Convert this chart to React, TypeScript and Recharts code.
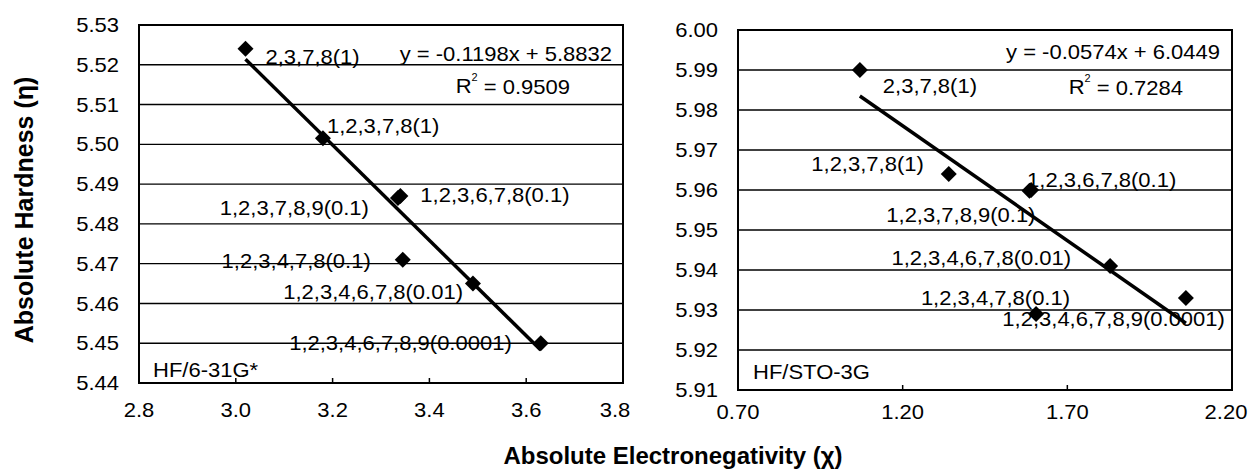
import { ScatterChart, Scatter, XAxis, YAxis, CartesianGrid, ReferenceArea } from "recharts";

// congeners, in the same order in both panels
const congeners = [
  "2,3,7,8(1)",
  "1,2,3,7,8(1)",
  "1,2,3,6,7,8(0.1)",
  "1,2,3,7,8,9(0.1)",
  "1,2,3,4,7,8(0.1)",
  "1,2,3,4,6,7,8(0.01)",
  "1,2,3,4,6,7,8,9(0.0001)",
];

// HF/6-31G*
const chi631 = [3.02, 3.18, 3.34, 3.335, 3.345, 3.49, 3.63];
const eta631 = [5.524, 5.5015, 5.487, 5.4865, 5.471, 5.465, 5.45];
const trend631X = [3.02, 3.63];
const trend631Y = [5.5214, 5.4483];
const xTicks631 = [2.8, 3.0, 3.2, 3.4, 3.6, 3.8];
const yTicks631 = [5.44, 5.45, 5.46, 5.47, 5.48, 5.49, 5.5, 5.51, 5.52, 5.53];

// HF/STO-3G
const chiSto = [1.07, 1.34, 1.59, 1.585, 1.605, 1.83, 2.06];
const etaSto = [5.99, 5.964, 5.96, 5.9598, 5.929, 5.941, 5.933];
const trendStoX = [1.07, 2.06];
const trendStoY = [5.9835, 5.9267];
const xTicksSto = [0.7, 1.2, 1.7, 2.2];
const yTicksSto = [5.91, 5.92, 5.93, 5.94, 5.95, 5.96, 5.97, 5.98, 5.99, 6.0];

// label placement relative to each marker (px)
const labelPos631 = [
  { dx: 20, dy: 8, anchor: "start" },
  { dx: 4, dy: -13, anchor: "start" },
  { dx: 20, dy: -1, anchor: "start" },
  { dx: -29, dy: 10, anchor: "end" },
  { dx: -32, dy: 1, anchor: "end" },
  { dx: -10, dy: 8, anchor: "end" },
  { dx: -29, dy: 0, anchor: "end" },
];
const labelPosSto = [
  { dx: 23, dy: 16, anchor: "start" },
  { dx: -25, dy: -10, anchor: "end" },
  { dx: -4, dy: -10, anchor: "start" },
  { dx: 6, dy: 24, anchor: "end" },
  { dx: 34, dy: -16, anchor: "end" },
  { dx: -39, dy: -8, anchor: "end" },
  { dx: 39, dy: 21, anchor: "end" },
];

const FONT = "Arial, 'Liberation Sans', Helvetica, sans-serif";
const FS = 20;
const SX = 1.1; // the scan's lettering is a little wide

const SText = ({ x, y, anchor = "start", children }: any) => (
  <text
    transform={`translate(${x},${y}) scale(${SX},1)`}
    textAnchor={anchor}
    dominantBaseline="central"
    fontSize={FS}
    fontFamily={FONT}
    fill="#000"
  >
    {children}
  </text>
);

const toPoints = (xs: number[], ys: number[]) =>
  xs.map((x, i) => ({ x, y: ys[i], idx: i, name: congeners[i] }));
const toLine = (xs: number[], ys: number[]) => xs.map((x, i) => ({ x, y: ys[i] }));

const makeShape = (pos: { dx: number; dy: number; anchor: string }[]) => (props: any) => {
  const { cx, cy, payload } = props;
  const p = pos[payload.idx];
  const r = 8;
  return (
    <g>
      <polygon
        points={`${cx},${cy - r} ${cx + r},${cy} ${cx},${cy + r} ${cx - r},${cy}`}
        fill="#000"
      />
      <SText x={cx + p.dx} y={cy + p.dy} anchor={p.anchor}>
        {payload.name}
      </SText>
    </g>
  );
};

const XTick = (props: any) => {
  const { x, y, payload, digits, labelGap, maxX } = props;
  // keep the last label inside the picture
  const tx = Math.min(x, maxX);
  return (
    <g>
      <line x1={x} y1={y} x2={x} y2={y - 5} stroke="#000" strokeWidth={1.5} />
      <SText x={tx} y={y + labelGap} anchor="middle">
        {payload.value.toFixed(digits)}
      </SText>
    </g>
  );
};

const YTick = (props: any) => {
  const { x, y, payload } = props;
  return (
    <SText x={x} y={y} anchor="end">
      {payload.value.toFixed(2)}
    </SText>
  );
};

type PanelProps = {
  points: { x: number; y: number; idx: number; name: string }[];
  trend: { x: number; y: number }[];
  xTicks: number[];
  yTicks: number[];
  xDigits: number;
  labelPos: { dx: number; dy: number; anchor: string }[];
  width: number;
  margin: { top: number; right: number; bottom: number; left: number };
  labelGap: number;
};

const Panel = ({ points, trend, xTicks, yTicks, xDigits, labelPos, width, margin, labelGap }: PanelProps) => {
  const xMin = xTicks[0];
  const xMax = xTicks[xTicks.length - 1];
  const yMin = yTicks[0];
  const yMax = yTicks[yTicks.length - 1];
  return (
    <ScatterChart width={width} height={471} margin={margin}>
      <CartesianGrid vertical={false} stroke="#000" strokeWidth={1.4} />
      <XAxis
        type="number"
        dataKey="x"
        domain={[xMin, xMax]}
        ticks={xTicks}
        allowDataOverflow
        axisLine={false}
        tickLine={false}
        tickSize={0}
        tickMargin={0}
        height={30}
        interval={0}
        tick={(p: any) => (
          <XTick {...p} digits={xDigits} labelGap={labelGap} maxX={width - 25} />
        )}
      />
      <YAxis
        type="number"
        dataKey="y"
        domain={[yMin, yMax]}
        ticks={yTicks}
        allowDataOverflow
        axisLine={false}
        tickLine={false}
        tickSize={0}
        tickMargin={20}
        width={60}
        interval={0}
        tick={(p: any) => <YTick {...p} />}
      />
      <ReferenceArea
        x1={xMin}
        x2={xMax}
        y1={yMin}
        y2={yMax}
        fill="none"
        stroke="#000"
        strokeWidth={2}
        fillOpacity={0}
      />
      <Scatter
        data={trend}
        line={{ stroke: "#000", strokeWidth: 3.5 }}
        shape={() => <g />}
        isAnimationActive={false}
      />
      <Scatter data={points} shape={makeShape(labelPos)} isAnimationActive={false} />
    </ScatterChart>
  );
};

const App = () => {
  return (
    <div
      style={{
        position: "absolute",
        left: 0,
        top: 0,
        width: 1251,
        height: 471,
        background: "#fff",
        fontFamily: FONT,
      }}
    >
      {/* HF/6-31G* panel: plot area 139..623 x 25..383 */}
      <div style={{ position: "absolute", left: 0, top: 0 }}>
        <Panel
          points={toPoints(chi631, eta631)}
          trend={toLine(trend631X, trend631Y)}
          xTicks={xTicks631}
          yTicks={yTicks631}
          xDigits={1}
          labelPos={labelPos631}
          width={640}
          margin={{ top: 25, right: 17, bottom: 58, left: 79 }}
          labelGap={27}
        />
      </div>
      {/* HF/STO-3G panel: plot area 738..1232 x 30..390 */}
      <div style={{ position: "absolute", left: 660, top: 0 }}>
        <Panel
          points={toPoints(chiSto, etaSto)}
          trend={toLine(trendStoX, trendStoY)}
          xTicks={xTicksSto}
          yTicks={yTicksSto}
          xDigits={2}
          labelPos={labelPosSto}
          width={591}
          margin={{ top: 30, right: 19, bottom: 51, left: 18 }}
          labelGap={22}
        />
      </div>
      {/* annotations and axis titles */}
      <svg
        width={1251}
        height={471}
        style={{ position: "absolute", left: 0, top: 0, pointerEvents: "none" }}
      >
        <SText x={612} y={54} anchor="end">
          y = -0.1198x + 5.8832
        </SText>
        <SText x={570} y={86} anchor="end">
          R<tspan fontSize={10} dy={-9}>2</tspan>
          <tspan dy={9}> = 0.9509</tspan>
        </SText>
        <SText x={153} y={370}>
          HF/6-31G*
        </SText>
        <SText x={1220} y={52} anchor="end">
          y = -0.0574x + 6.0449
        </SText>
        <SText x={1183} y={87} anchor="end">
          R<tspan fontSize={10} dy={-9}>2</tspan>
          <tspan dy={9}>{"  = 0.7284"}</tspan>
        </SText>
        <SText x={753} y={372}>
          HF/STO-3G
        </SText>
        <text
          x={0}
          y={0}
          transform="translate(24,210) rotate(-90)"
          textAnchor="middle"
          dominantBaseline="central"
          fontSize={25}
          fontWeight="bold"
          fontFamily={FONT}
          fill="#000"
        >
          Absolute Hardness (η)
        </text>
        <text
          x={673}
          y={455}
          textAnchor="middle"
          dominantBaseline="central"
          fontSize={24}
          fontWeight="bold"
          fontFamily={FONT}
          fill="#000"
        >
          Absolute Electronegativity (χ)
        </text>
      </svg>
    </div>
  );
};

export default App;
